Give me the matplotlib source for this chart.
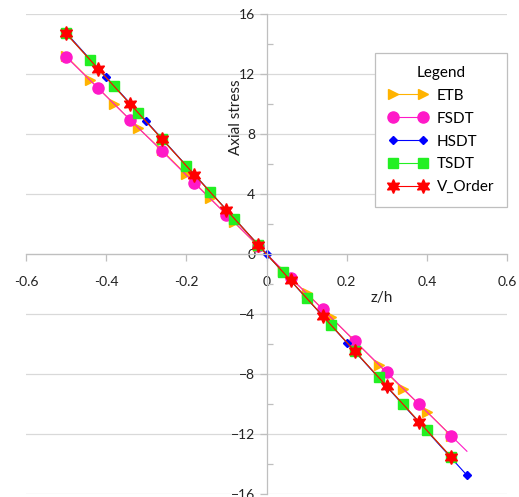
import numpy as np
import matplotlib
matplotlib.use("Agg")
import matplotlib.pyplot as plt
from matplotlib.ticker import MultipleLocator

plt.rcParams["font.family"] = ["Lato", "DejaVu Sans"]

# 数据
z_etb = [-0.50, -0.44, -0.38, -0.32, -0.26, -0.20, -0.14, -0.08, -0.02,
         0.04, 0.10, 0.16, 0.22, 0.28, 0.34, 0.40, 0.46]
s_etb = [13.2, 11.6, 10.0, 8.4, 6.9, 5.3, 3.7, 2.1, 0.5,
         -1.1, -2.6, -4.2, -5.8, -7.4, -9.0, -10.5, -12.1]

z_fsdt = [-0.50, -0.42, -0.34, -0.26, -0.18, -0.10, -0.02,
          0.06, 0.14, 0.22, 0.30, 0.38, 0.46, 0.50]
s_fsdt = [13.15, 11.05, 8.94, 6.84, 4.73, 2.63, 0.53,
          -1.58, -3.68, -5.79, -7.89, -10.0, -12.1, -13.15]

z_hsdt = [-0.5, -0.4, -0.3, -0.2, -0.1, 0.0, 0.1, 0.2, 0.3, 0.4, 0.5]
s_hsdt = [14.75, 11.8, 8.85, 5.9, 2.95, 0.0, -2.95, -5.9, -8.85, -11.8, -14.75]

z_tsdt = [-0.50, -0.44, -0.38, -0.32, -0.26, -0.20, -0.14, -0.08, -0.02,
          0.04, 0.10, 0.16, 0.22, 0.28, 0.34, 0.40, 0.46]
s_tsdt = [14.7, 12.94, 11.17, 9.41, 7.64, 5.88, 4.12, 2.35, 0.59,
          -1.18, -2.94, -4.7, -6.47, -8.23, -10.0, -11.76, -13.52]

z_vord = [-0.50, -0.42, -0.34, -0.26, -0.18, -0.10, -0.02,
          0.06, 0.14, 0.22, 0.30, 0.38, 0.46]
s_vord = [14.7, 12.35, 10.0, 7.64, 5.29, 2.94, 0.59,
          -1.76, -4.12, -6.47, -8.82, -11.17, -13.52]

fig = plt.figure(figsize=(5.19, 4.97), dpi=100)
ax = fig.add_axes([26 / 519, 1 - 494 / 497, 481 / 519, 480 / 497])

lw = 0.8
ax.plot(z_etb, s_etb, color="#FFB300", lw=lw, marker=">", ms=6.5, mec="#FFB300", label="ETB")
ax.plot(z_fsdt, s_fsdt, color="#FF19C8", lw=lw, marker="o", ms=8, mec="#FF19C8",
        markevery=list(range(len(z_fsdt) - 1)), label="FSDT")
ax.plot(z_hsdt, s_hsdt, color="#0000FF", lw=lw, marker="D", ms=4.5, mec="#0000FF", label="HSDT")
ax.plot(z_tsdt, s_tsdt, color="#22F022", lw=lw, marker="s", ms=7.8, mec="#22F022", label="TSDT")
ax.plot(z_vord, s_vord, color="#FF0000", lw=lw, marker=(6, 1, 0), ms=10, mec="#FF0000", label="V_Order")

# 坐标轴交于原点
ax.set_xlim(-0.6, 0.6)
ax.set_ylim(-16, 16)
ax.spines["left"].set_position(("data", 0))
ax.spines["bottom"].set_position(("data", 0))
ax.spines["top"].set_visible(False)
ax.spines["right"].set_visible(False)
for sp in ["left", "bottom"]:
    ax.spines[sp].set_color("#BFBFBF")
    ax.spines[sp].set_linewidth(0.9)

ax.yaxis.set_major_locator(MultipleLocator(4))
ax.yaxis.set_minor_locator(MultipleLocator(2))
ax.set_xticks(np.arange(-0.6, 0.61, 0.2))
ax.set_xticklabels(["-0.6", "-0.4", "-0.2", "0", "0.2", "0.4", "0.6"])
ax.tick_params(axis="x", which="major", direction="out", length=5, width=0.9,
               color="#BFBFBF", pad=11, labelsize=10, labelcolor="#222222")
ax.tick_params(axis="y", which="major", direction="out", length=5, width=0.9,
               color="#BFBFBF", pad=3, labelsize=10, labelcolor="#222222")
ax.tick_params(axis="y", which="minor", direction="in", length=4, width=0.9, color="#BFBFBF")

ax.yaxis.grid(True, color="#D9D9D9", linewidth=0.9)
ax.set_axisbelow(True)

ax.text(0.437, 0.785, "Axial stress", transform=ax.transAxes, rotation=90,
        ha="center", va="center", fontsize=11, color="#222222")
ax.text(0.740, 0.408, "z/h", transform=ax.transAxes,
        ha="center", va="center", fontsize=11, color="#222222")

# 图例
leg = ax.legend(title="Legend", loc="upper right",
                bbox_to_anchor=(507 / 519, 1 - 53 / 497), bbox_transform=fig.transFigure,
                borderaxespad=0, numpoints=2, handlelength=2.55, handletextpad=0.6,
                labelspacing=0.58, borderpad=0.85, fontsize=11, title_fontsize=11,
                fancybox=False, framealpha=1)
leg.get_frame().set_edgecolor("#BFBFBF")
leg.get_frame().set_linewidth(0.9)

fig.savefig("out.png", dpi=100)
